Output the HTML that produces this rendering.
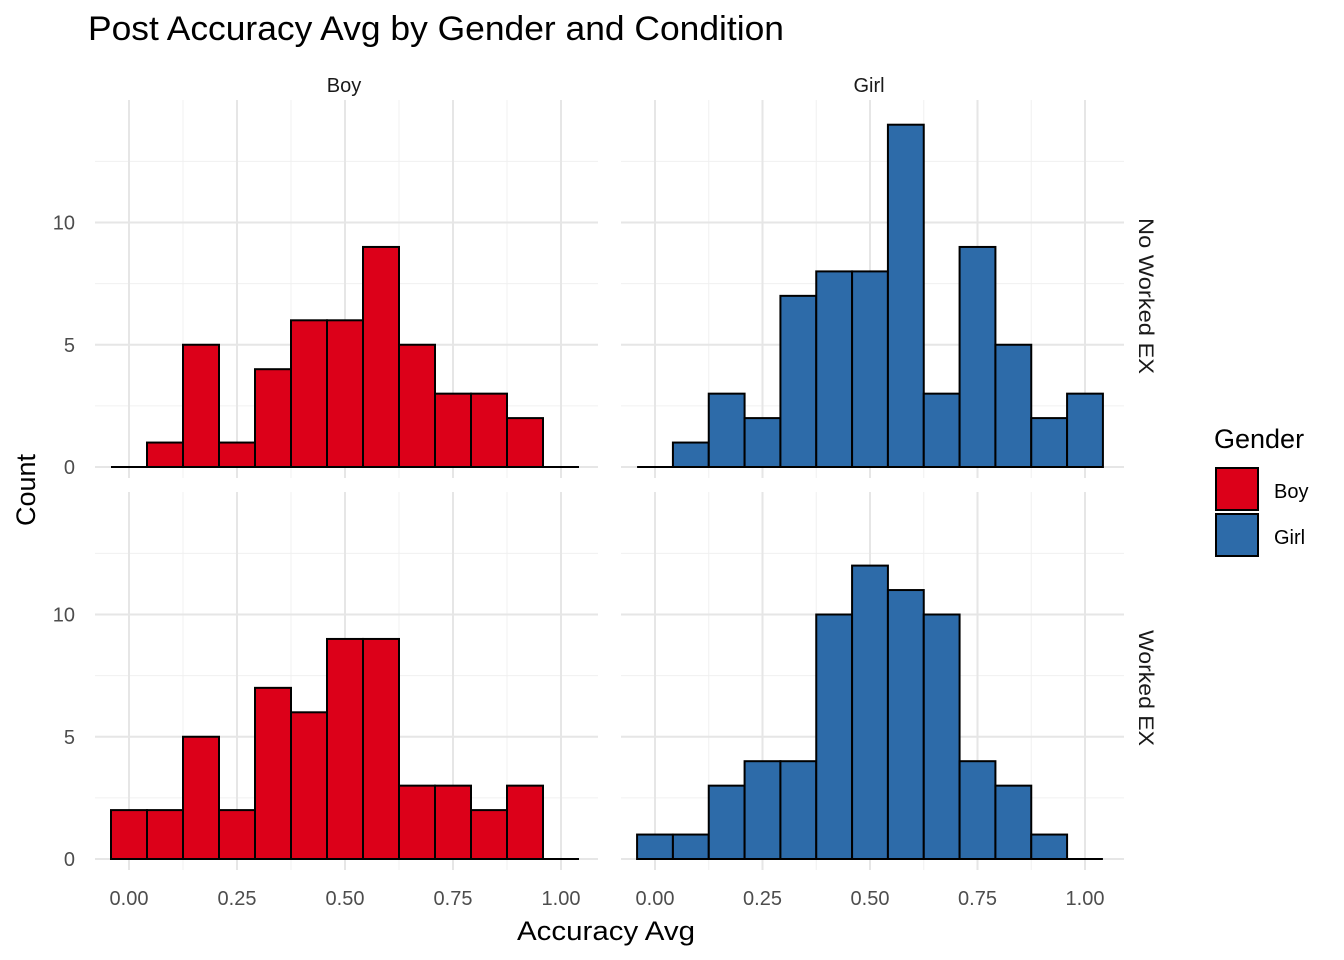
<!DOCTYPE html>
<html><head><meta charset="utf-8"><style>body{margin:0;background:#fff}svg{display:block;font-family:"Liberation Sans",Arial,sans-serif}</style></head>
<body>
<svg id="chart" width="1344" height="960">
<text x="88" y="40" font-size="34" fill="#000" textLength="696" lengthAdjust="spacingAndGlyphs">Post Accuracy Avg by Gender and Condition</text>
<text x="606" y="940" font-size="27" text-anchor="middle" textLength="178" lengthAdjust="spacingAndGlyphs">Accuracy Avg</text>
<text x="35" y="490" font-size="27" text-anchor="middle" transform="rotate(-90 35 490)">Count</text>
<g id="panels"></g>
<g>
<text x="1214" y="448" font-size="27">Gender</text>
<rect x="1216" y="468" width="42" height="42" fill="#DC0019" stroke="#000" stroke-width="2"/>
<text x="1274" y="498" font-size="20">Boy</text>
<rect x="1216" y="514" width="42" height="42" fill="#2D6BA9" stroke="#000" stroke-width="2"/>
<text x="1274" y="544" font-size="20">Girl</text>
</g>
</svg>
<script>
const binCenters = [0,1/12,2/12,3/12,4/12,5/12,6/12,7/12,8/12,9/12,10/12,11/12,1];
const boyNoWorked = [0,1,5,1,4,6,6,9,5,3,3,2,0];
const girlNoWorked = [0,1,3,2,7,8,8,14,3,9,5,2,3];
const boyWorked = [2,2,5,2,7,6,9,9,3,3,2,3,0];
const girlWorked = [1,1,3,4,4,10,12,11,10,4,3,1,0];
const xTicks = [0,0.25,0.5,0.75,1];
const xTickLabels = ["0.00","0.25","0.50","0.75","1.00"];
const yTicks = [0,5,10];
const NS="http://www.w3.org/2000/svg";
const g=document.getElementById('panels');
function mk(t,a,p){const e=document.createElementNS(NS,t);for(const k in a)e.setAttribute(k,a[k]);(p||g).appendChild(e);return e;}
const panels=[
 {x0:95,x1:598,zero:129,xs:432,top:100,bot:478,y0:467,data:boyNoWorked,col:"#DC0019",n:"boy-no-worked"},
 {x0:621,x1:1124,zero:655,xs:430,top:100,bot:478,y0:467,data:girlNoWorked,col:"#2D6BA9",n:"girl-no-worked"},
 {x0:95,x1:598,zero:129,xs:432,top:492,bot:870,y0:859,data:boyWorked,col:"#DC0019",n:"boy-worked"},
 {x0:621,x1:1124,zero:655,xs:430,top:492,bot:870,y0:859,data:girlWorked,col:"#2D6BA9",n:"girl-worked"}];
const ys=24.45, bw=1/12;
panels.forEach((p,pi)=>{
 const X=v=>p.zero+v*p.xs, Y=v=>p.y0-v*ys;
 const pg=mk('g',{});
 
 
 for(let v=0.125;v<1.1;v+=0.25) mk('line',{x1:X(v),x2:X(v),y1:p.top,y2:p.bot,stroke:'#f0f0f0','stroke-width':1},pg);
 for(let v=2.5;v<15;v+=5) mk('line',{x1:p.x0,x2:p.x1,y1:Y(v),y2:Y(v),stroke:'#f0f0f0','stroke-width':1},pg);
 xTicks.forEach(v=>mk('line',{x1:X(v),x2:X(v),y1:p.top,y2:p.bot,stroke:'#e6e6e6','stroke-width':2},pg));
 yTicks.forEach(v=>mk('line',{x1:p.x0,x2:p.x1,y1:Y(v),y2:Y(v),stroke:'#e6e6e6','stroke-width':2},pg));
 p.data.forEach((c,i)=>{
  const l=X(binCenters[i]-bw/2), r=X(binCenters[i]+bw/2);
  let e;
  if(c===0) e=mk('line',{x1:l,x2:r,y1:Y(0),y2:Y(0),stroke:'#000','stroke-width':2},pg);
  else e=mk('rect',{x:l,y:Y(c),width:r-l,height:Y(0)-Y(c),fill:p.col,stroke:'#000','stroke-width':2},pg);
  
  
 });
 if(pi%2===0) yTicks.forEach(v=>{const t=mk('text',{x:75,y:Y(v)+7,'font-size':20,fill:'#4d4d4d','text-anchor':'end'});t.textContent=v;
  
  });
 if(pi>=2) xTicks.forEach((v,i)=>{const t=mk('text',{x:X(v),y:905,'font-size':20,fill:'#4d4d4d','text-anchor':'middle'});t.textContent=xTickLabels[i];
  
  });
});
[["Boy",344],["Girl",869]].forEach(([s,x])=>{const t=mk('text',{x:x,y:92,'font-size':20,fill:'#1a1a1a','text-anchor':'middle'});t.textContent=s;
 
 });
[["No Worked EX",296,156],["Worked EX",688,116]].forEach(([s,y,w])=>{const t=mk('text',{x:1139,y:y,'font-size':21,fill:'#1a1a1a','text-anchor':'middle',textLength:w,lengthAdjust:'spacingAndGlyphs',transform:`rotate(90 1139 ${y})`});t.textContent=s;
 
 });
</script>
</body></html>
